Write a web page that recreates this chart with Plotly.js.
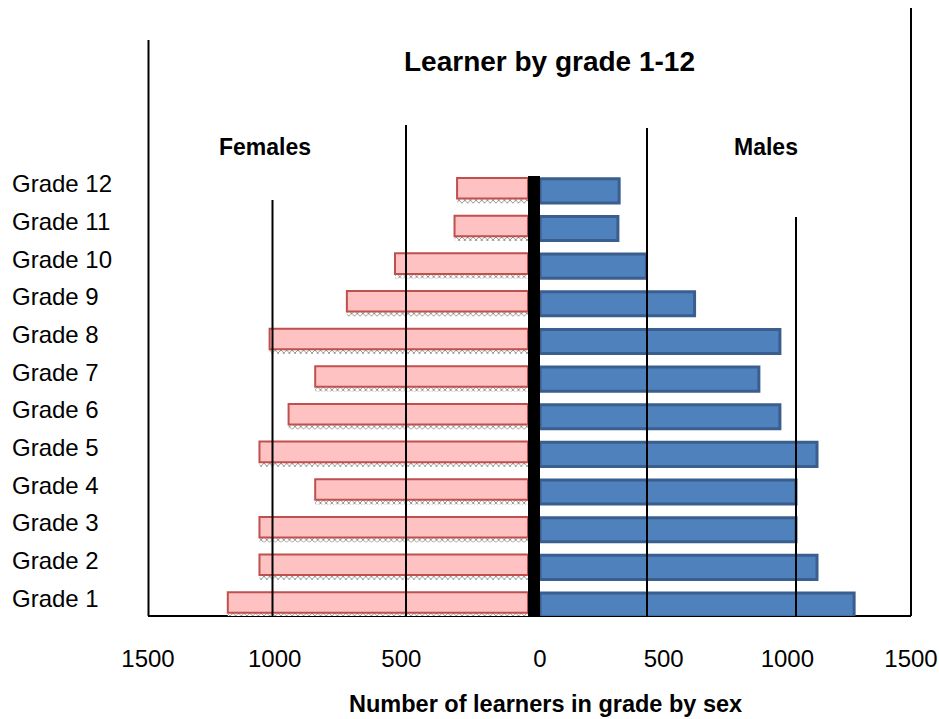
<!DOCTYPE html>
<html>
<head>
<meta charset="utf-8">
<script src="https://cdn.plot.ly/plotly-3.0.1.min.js"></script>
<style>html,body{margin:0;padding:0;background:#fff;}#chart{width:939px;height:719px;}</style>
</head>
<body>
<div id="chart"></div>
<script>
// ---- data ----
const grades = ["Grade 1","Grade 2","Grade 3","Grade 4","Grade 5","Grade 6","Grade 7","Grade 8","Grade 9","Grade 10","Grade 11","Grade 12"];
const females = [1185, 1060, 1060, 840, 1060, 945, 840, 1020, 715, 525, 290, 280];
const males   = [1270, 1120, 1035, 1035, 1120, 970, 885, 970, 625, 430, 315, 320];
const femaleTicks = [1500, 1000, 500];
const maleTicks = [0, 500, 1000, 1500];
const titleText = "Learner by grade 1-12";
const xTitleText = "Number of learners in grade by sex";

const FONT = "Liberation Sans, Arial, Helvetica, sans-serif";

const traces = [
  { // shadow under female bars
    type: "bar", orientation: "h", y: grades, x: females, xaxis: "x", yaxis: "y",
    width: 0.12, offset: -0.33,
    marker: { color: "#ffffff", line: {width: 0},
      pattern: { shape: "x", fgcolor: "#8a8a8a", bgcolor: "#ffffff", size: 4, solidity: 0.4 } },
    hoverinfo: "skip", showlegend: false
  },
  {
    type: "bar", orientation: "h", y: grades, x: females, xaxis: "x", yaxis: "y",
    width: 0.546, offset: -0.206, name: "Females",
    marker: { color: "#ffc2c2", line: { color: "#c0504d", width: 2 } },
    showlegend: false
  },
  {
    type: "bar", orientation: "h", y: grades, x: males, xaxis: "x2", yaxis: "y",
    width: 0.64, offset: -0.32, name: "Males",
    marker: { color: "#4f81bd", line: { color: "#3a5f8e", width: 3 } },
    showlegend: false
  }
];

const L = 148, R = 911, B = 616, T = 172;
const W = R - L, H = B - T;
const px = v => (v - L) / W;
const py = v => (B - v) / H;

function vline(xp, ytop, layer, w) {
  return { type: "line", xref: "paper", yref: "paper", x0: px(xp), x1: px(xp), y0: 0, y1: py(ytop),
    line: { color: "#000", width: w || 2 }, layer: layer || "above" };
}

const shapes = [
  { type: "line", xref: "paper", yref: "paper", x0: 0, x1: 1, y0: 0, y1: 0, line: {color: "#000", width: 2}, layer: "below" },
  vline(148.5, 40, "above"),
  vline(911, 8, "above"),
  vline(272.5, 200, "above"),
  vline(406, 125, "above"),
  vline(647, 128, "above"),
  vline(796, 217, "above"),
  { type: "rect", xref: "paper", yref: "paper", x0: px(528), x1: px(540), y0: 0, y1: py(176),
    fillcolor: "#000", line: {width: 0}, layer: "above" }
];

const annotations = grades.map(g => ({
  text: g, xref: "paper", yref: "y", x: px(10), y: g, xanchor: "left", yanchor: "middle",
  yshift: 7, showarrow: false, font: { family: FONT, size: 24, color: "#000" }
}));
annotations.push(
  { text: "<b>Females</b>", xref: "paper", yref: "paper", x: px(264.5), y: py(147), xanchor: "center", yanchor: "middle",
    showarrow: false, font: { family: FONT, size: 23, color: "#000" } },
  { text: "<b>Males</b>", xref: "paper", yref: "paper", x: px(766), y: py(147), xanchor: "center", yanchor: "middle",
    showarrow: false, font: { family: FONT, size: 23, color: "#000" } },
  { text: "<b>" + xTitleText + "</b>", xref: "paper", yref: "paper", x: px(545), y: py(704), xanchor: "center", yanchor: "middle",
    showarrow: false, font: { family: FONT, size: 23.5, color: "#000" } }
);

const layout = {
  width: 939, height: 719,
  margin: { l: L, r: 939 - R, t: T, b: 719 - B, pad: 0 },
  paper_bgcolor: "#fff", plot_bgcolor: "#fff",
  font: { family: FONT, size: 24, color: "#000" },
  title: { text: "<b>" + titleText + "</b>", x: 549.5 / 939, xanchor: "center", xref: "container",
    y: 1 - 61 / 719, yanchor: "middle", yref: "container", font: { family: FONT, size: 28, color: "#000" } },
  barmode: "overlay",
  showlegend: false,
  xaxis: {
    domain: [0, px(528)], range: [1500, 0], tickvals: femaleTicks, ticktext: femaleTicks.map(String),
    showgrid: false, zeroline: false, showline: false, ticks: "", ticklabelstandoff: 26,
    tickfont: { family: FONT, size: 24, color: "#000" }, fixedrange: true
  },
  xaxis2: {
    domain: [px(540), 1], range: [0, 1500], anchor: "y", tickvals: maleTicks, ticktext: maleTicks.map(String),
    showgrid: false, zeroline: false, showline: false, ticks: "", ticklabelstandoff: 26,
    tickfont: { family: FONT, size: 24, color: "#000" }, fixedrange: true
  },
  yaxis: {
    type: "category", categoryorder: "array", categoryarray: grades, range: [-0.292, 11.5],
    showticklabels: false, showgrid: false, zeroline: false, showline: false, ticks: "", fixedrange: true
  },
  shapes: shapes,
  annotations: annotations
};

Plotly.newPlot("chart", traces, layout, { displayModeBar: false, staticPlot: true });
</script>
</body>
</html>
